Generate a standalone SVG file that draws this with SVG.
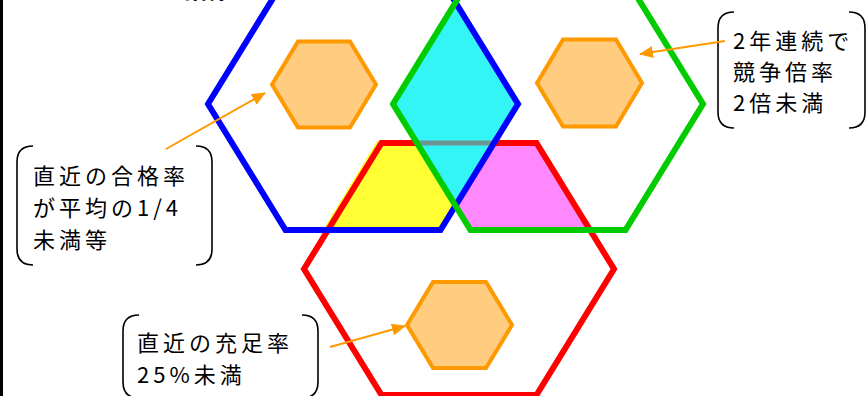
<svg xmlns="http://www.w3.org/2000/svg" width="867" height="396" viewBox="0 0 867 396">
<defs>
<marker id="ah" viewBox="0 0 14 12" refX="13" refY="6" markerWidth="14" markerHeight="12" markerUnits="userSpaceOnUse" orient="auto">
<path d="M0,0 L14,6 L0,12 Z" fill="#FF9900"/>
</marker>
<style>
.big{fill:none;stroke-width:6;stroke-linejoin:miter}
.orn{fill:#FFCC80;stroke:#FF9900;stroke-width:4}
.br{fill:none;stroke:#000;stroke-width:1.6}
.lbl{font-family:"Noto Sans CJK JP","Noto Sans",sans-serif;font-size:22px;letter-spacing:4px;fill:#000}
.con{stroke:#FF9900;stroke-width:2;fill:none}
</style>
</defs>
<rect width="867" height="396" fill="#fff"/>
<rect x="0" y="0" width="3" height="396" fill="#000"/>
<text x="92" y="-2" font-family="'Noto Sans CJK JP',sans-serif" font-weight="bold" font-size="23" fill="#000">・３つの指標</text>
<g id="regions">
<polygon points="377,141 415.8,141 455.5,205.6 440.5,230 323,230" fill="#FFFF33"/>
<polygon points="494,143 536.5,143 590,230 470.5,230 455.5,205.6" fill="#FF88FF"/>
</g>
<g id="hex-red"><path class="big" stroke="#FF0000" d="M304,269 L381.5,143 L536.5,143 L614,269 L536.5,395 L381.5,395 Z"/></g>
<g id="overlap">
<polygon points="455.5,2.4 518,104 455.5,205.6 393,104" fill="#33F5F5"/>
<line x1="417" y1="143" x2="494" y2="143" stroke="#6F9595" stroke-width="5"/>
</g>
<g id="hex-blue"><path class="big" stroke="#0000FF" d="M208,104 L285.5,-22 L440.5,-22 L518,104 L440.5,230 L285.5,230 Z"/></g>
<g id="hex-green"><path class="big" stroke="#00CC00" d="M393,104 L470.5,-22 L625.5,-22 L703,104 L625.5,230 L470.5,230 Z"/></g>
<g id="node-left"><path class="orn" d="M272,84.5 L298,41.5 L350,41.5 L376,84.5 L350,127.5 L298,127.5 Z"/></g>
<g id="node-right"><path class="orn" d="M537,83 L563,39.5 L616,39.5 L642,83 L616,126.5 L563,126.5 Z"/></g>
<g id="node-bottom"><path class="orn" d="M407,325 L433,282 L486,282 L512,325 L486,368 L433,368 Z"/></g>
<g id="label-pass">
<path class="br" d="M33,146 Q17,146 17,162 L17,249 Q17,265 33,265"/>
<path class="br" d="M196,146 Q212,146 212,162 L212,249 Q212,265 196,265"/>
<text class="lbl" x="33" y="184">直近の合格率</text>
<text class="lbl" x="33" y="216">が平均の1/4</text>
<text class="lbl" x="33" y="248">未満等</text>
</g>
<g id="label-comp">
<path class="br" d="M734,12 Q718,12 718,28 L718,112 Q718,128 734,128"/>
<path class="br" d="M849,12 Q865,12 865,28 L865,112 Q865,128 849,128"/>
<text class="lbl" x="733" y="49">2年連続で</text>
<text class="lbl" x="733" y="80">競争倍率</text>
<text class="lbl" x="733" y="111">2倍未満</text>
</g>
<g id="label-fill">
<path class="br" d="M139,315 Q123,315 123,331 L123,382 Q123,398 139,398"/>
<path class="br" d="M302,315 Q318,315 318,331 L318,382 Q318,398 302,398"/>
<text class="lbl" x="137" y="351">直近の充足率</text>
<text class="lbl" x="137" y="383">25%未満</text>
</g>
<g id="connectors">
<line class="con" x1="166" y1="149" x2="265" y2="93" marker-end="url(#ah)"/>
<line class="con" x1="725" y1="41" x2="640" y2="54" marker-end="url(#ah)"/>
<line class="con" x1="330" y1="347" x2="405" y2="326" marker-end="url(#ah)"/>
</g>
</svg>
